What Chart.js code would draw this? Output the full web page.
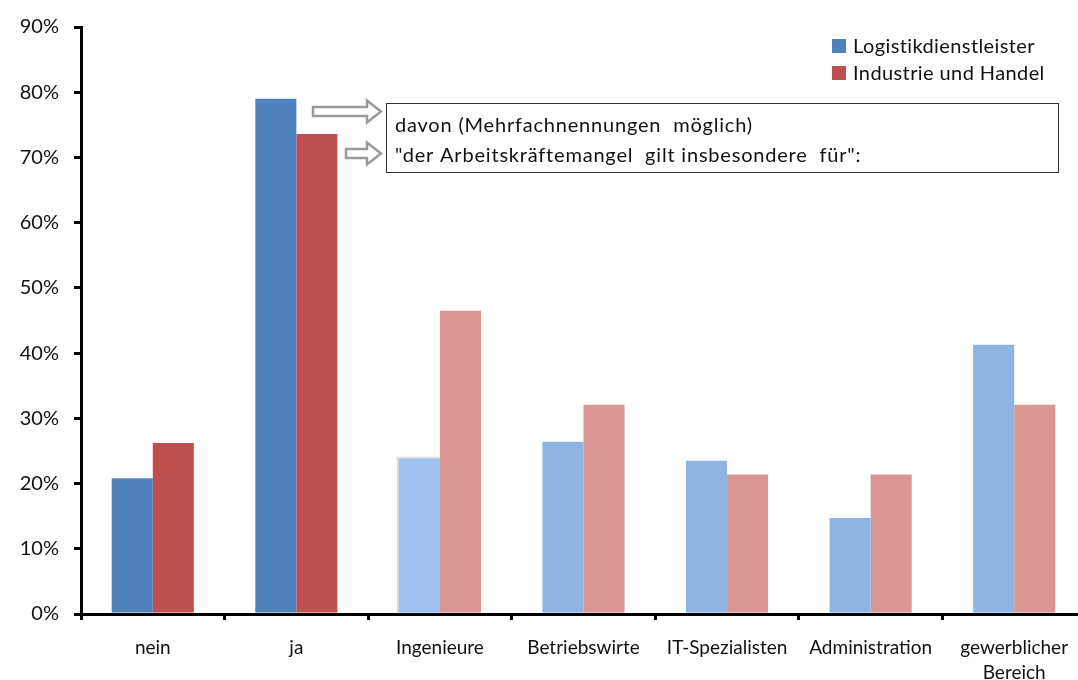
<!DOCTYPE html>
<html>
<head>
<meta charset="utf-8">
<script src="https://cdn.jsdelivr.net/npm/chart.js@4.4.1/dist/chart.umd.min.js"></script>
<style>
  html, body { margin: 0; padding: 0; background: #fff; overflow: hidden; }
  #wrap { position: relative; width: 1092px; height: 680px; }
</style>
</head>
<body>
<div id="wrap"><canvas id="c"></canvas></div>
<script>
// Categories (multi-line labels as arrays)
const categories = ['nein', 'ja', 'Ingenieure', 'Betriebswirte', 'IT-Spezialisten', 'Administration', ['gewerblicher', 'Bereich']];
const seriesNames = ['Logistikdienstleister', 'Industrie und Handel'];
// Share of respondents in percent
const logistikValues = [20.8, 79.0, 23.8, 26.4, 23.5, 14.7, 41.3];
const industrieValues = [26.2, 73.6, 46.5, 32.1, 21.4, 21.4, 32.1];
const yTicks = [0, 10, 20, 30, 40, 50, 60, 70, 80, 90];
const noteLines = ['davon (Mehrfachnennungen  möglich)', '"der Arbeitskräftemangel  gilt insbesondere  für":'];

const FONT = 'Lato, "Open Sans", sans-serif';

// Strong colours for the main answer (nein / ja), lighter ones for the breakdown
const blueMain = '#4F81BD', blueLight = '#8EB4E3', blueIng = '#9DC1F1';
const redMain = '#C0504D', redLight = '#D99694';
const blueColors = [blueMain, blueMain, blueIng, blueLight, blueLight, blueLight, blueLight];
const redColors = [redMain, redMain, redLight, redLight, redLight, redLight, redLight];

// Legend + note box with hollow arrows
const overlay = {
  id: 'overlay',
  afterDraw(chart) {
    const ctx = chart.ctx;
    ctx.save();
    // legend
    ctx.font = '20px ' + FONT;
    ctx.letterSpacing = '0.4px';
    ctx.textBaseline = 'middle';
    ctx.textAlign = 'left';
    const lx = 832, ly = 46;
    [blueMain, redMain].forEach((col, i) => {
      ctx.fillStyle = col;
      ctx.fillRect(lx, ly + i * 27 - 7, 14, 14);
      ctx.fillStyle = '#111';
      ctx.fillText(seriesNames[i], lx + 21, ly + i * 27 + 1);
    });

    // note box
    const bx = 386.5, by = 103.5, bw = 672, bh = 69;
    ctx.fillStyle = '#fff';
    ctx.fillRect(bx, by, bw, bh);
    ctx.strokeStyle = '#333';
    ctx.lineWidth = 1;
    ctx.strokeRect(bx, by, bw, bh);
    ctx.fillStyle = '#111';
    ctx.font = '20px ' + FONT;
    ctx.letterSpacing = '0.8px';
    ctx.fillText(noteLines[0], 395, 126);
    ctx.fillText(noteLines[1], 395, 156);
    ctx.letterSpacing = '0px';

    // hollow block arrows
    function arrow(x0, x1, cy, bodyH, headH, headL) {
      const xb = x1 - headL;
      ctx.beginPath();
      ctx.moveTo(x0, cy - bodyH / 2);
      ctx.lineTo(xb, cy - bodyH / 2);
      ctx.lineTo(xb, cy - headH / 2);
      ctx.lineTo(x1, cy);
      ctx.lineTo(xb, cy + headH / 2);
      ctx.lineTo(xb, cy + bodyH / 2);
      ctx.lineTo(x0, cy + bodyH / 2);
      ctx.closePath();
      ctx.fillStyle = '#fff';
      ctx.fill();
      ctx.strokeStyle = '#9a9a9a';
      ctx.lineWidth = 2.5;
      ctx.stroke();
    }
    arrow(313, 381, 111.5, 9, 22, 14);
    arrow(346, 381, 153.5, 9, 22, 14);
    ctx.restore();
  }
};

// soft grey halo around the Ingenieure bar of the first series
const halo = {
  id: 'halo',
  beforeDatasetDraw(chart, args) {
    if (args.index !== 0) return;
    const el = chart.getDatasetMeta(0).data[2];
    if (!el) return;
    const ctx = chart.ctx;
    const left = el.x - el.width / 2;
    ctx.save();
    ctx.fillStyle = 'rgba(150,150,150,0.35)';
    ctx.fillRect(left - 2, el.y - 2, el.width + 2, el.base - el.y + 3);
    ctx.restore();
  }
};

new Chart(document.getElementById('c'), {
  type: 'bar',
  data: {
    labels: categories,
    datasets: [
      { label: seriesNames[0], data: logistikValues, backgroundColor: blueColors },
      { label: seriesNames[1], data: industrieValues, backgroundColor: redColors }
    ]
  },
  options: {
    responsive: true,
    maintainAspectRatio: false,
    animation: false,
    layout: { padding: { top: 24, right: 6, left: 0, bottom: 0 } },
    datasets: { bar: { categoryPercentage: 0.572, barPercentage: 1.0, borderWidth: 0 } },
    plugins: { legend: { display: false }, tooltip: { enabled: false } },
    scales: {
      x: {
        offset: true,
        grid: { display: true, offset: true, drawOnChartArea: false, drawTicks: true, tickLength: 6, color: '#000', lineWidth: 3 },
        border: { display: true, color: '#000', width: 3 },
        ticks: { color: '#111', font: { family: FONT, size: 19, lineHeight: 1.3 }, padding: 16, maxRotation: 0, autoSkip: false },
        afterFit(s) { s.height = 66; }
      },
      y: {
        min: 0, max: 90,
        afterBuildTicks(s) { s.ticks = yTicks.map(v => ({ value: v })); },
        grid: { display: true, drawOnChartArea: false, drawTicks: true, tickLength: 7, color: '#000', lineWidth: 3 },
        border: { display: true, color: '#000', width: 3 },
        ticks: { color: '#111', font: { family: FONT, size: 20 }, padding: 15, callback: v => v + '%' },
        afterFit(s) { s.width = 81; }
      }
    }
  },
  plugins: [halo, overlay]
});
</script>
</body>
</html>
